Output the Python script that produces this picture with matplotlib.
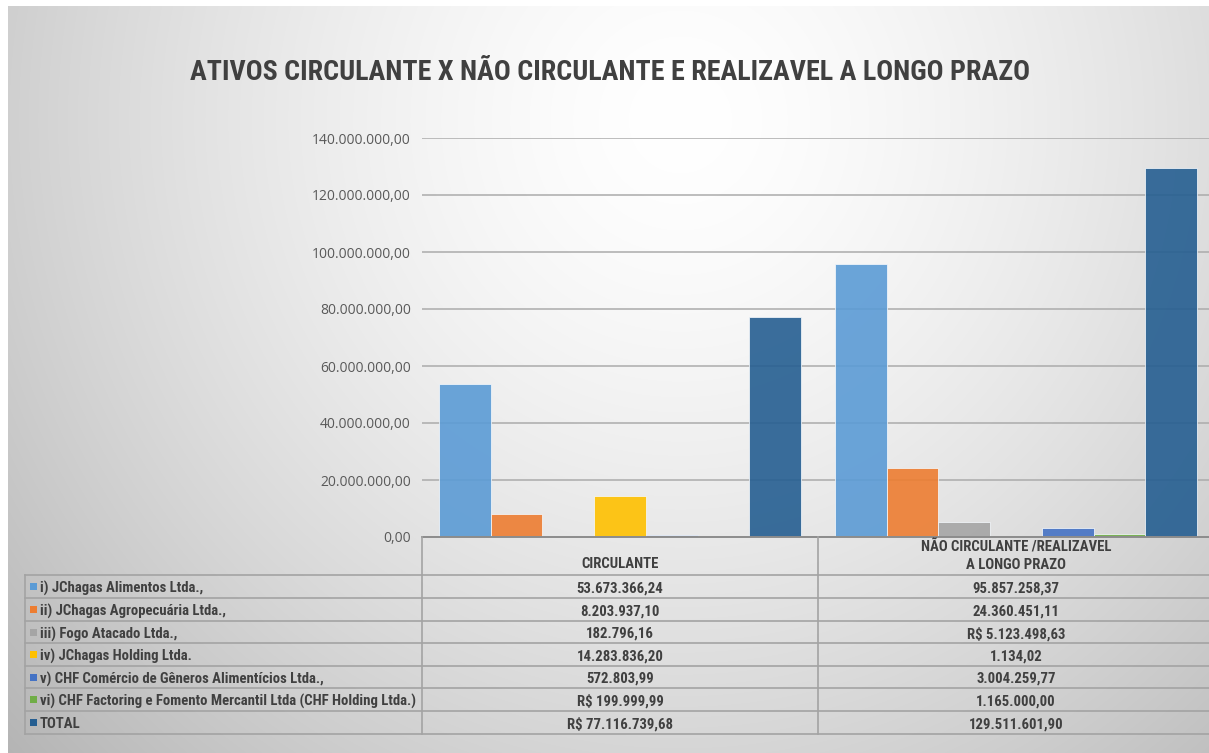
import numpy as np
import matplotlib
matplotlib.use('Agg')
import matplotlib.pyplot as plt
from matplotlib import font_manager as fm
from matplotlib.ticker import FuncFormatter

# data
categories = ['CIRCULANTE', 'NÃO CIRCULANTE /REALIZAVEL\nA LONGO PRAZO']
series = ['i) JChagas Alimentos Ltda.,',
          'ii) JChagas Agropecuária Ltda.,',
          'iii) Fogo Atacado Ltda.,',
          'iv) JChagas Holding Ltda.',
          'v) CHF Comércio de Gêneros Alimentícios Ltda.,',
          'vi) CHF Factoring e Fomento Mercantil Ltda (CHF Holding Ltda.)',
          'TOTAL']
circulante = [53673366.24, 8203937.10, 182796.16, 14283836.20, 572803.99, 199999.99, 77116739.68]
nao_circulante = [95857258.37, 24360451.11, 5123498.63, 1134.02, 3004259.77, 1165000.00, 129511601.90]
circulante_txt = ['53.673.366,24', '8.203.937,10', '182.796,16', '14.283.836,20',
                  '572.803,99', 'R$ 199.999,99', 'R$ 77.116.739,68']
nao_circulante_txt = ['95.857.258,37', '24.360.451,11', 'R$ 5.123.498,63', '1.134,02',
                      '3.004.259,77', '1.165.000,00', '129.511.601,90']
yticks = [0, 20e6, 40e6, 60e6, 80e6, 100e6, 120e6, 140e6]

colors = ['#5B9BD5', '#ED7D31', '#A5A5A5', '#FFC000', '#4472C4', '#70AD47', '#255E91']


def pick(cands):
    for c in cands:
        try:
            fm.findfont(fm.FontProperties(family=c), fallback_to_default=False)
            return c
        except Exception:
            pass
    return 'DejaVu Sans'


narrow = pick(['Liberation Sans Narrow', 'Roboto Condensed', 'Open Sans Condensed', 'Open Sans'])
regular = pick(['Open Sans', 'Lato', 'DejaVu Sans'])

W, H = 1209, 753
fig = plt.figure(figsize=(W / 100, H / 100), dpi=100)
fig.patch.set_facecolor('white')

# radial background
bg = fig.add_axes([8 / W, 0, 1 - 8 / W, 1 - 6 / H], zorder=-5)
yy, xx = np.mgrid[6:H, 8:W]
r = np.sqrt(((xx - 680) / 800.0) ** 2 + ((yy - 120) / 820.0) ** 2)
g = 1 - 0.24 * np.clip(r, 0, 1.2) ** 1.5
bg.imshow(np.dstack([g, g, g]), aspect='auto', extent=(8, W, H, 6), interpolation='bilinear')
bg.axis('off')


def px(x0, y0, x1, y1):
    return [x0 / W, 1 - y1 / H, (x1 - x0) / W, (y1 - y0) / H]


ax = fig.add_axes(px(422, 138, 1214, 537))
ax.patch.set_alpha(0)
n = len(series)
bw = 0.1306
x = np.arange(len(categories))
for k in range(n):
    vals = [circulante[k], nao_circulante[k]]
    ax.bar(x + (k - (n - 1) / 2) * bw, vals, bw, color=colors[k], alpha=0.9,
           edgecolor='#f4f8fc', linewidth=0.6, zorder=3)
ax.set_xlim(-0.5, 1.5)
ax.set_ylim(0, 140e6)
ax.set_yticks(yticks)
ax.yaxis.set_major_formatter(FuncFormatter(
    lambda v, p: '{:,.2f}'.format(v).replace(',', 'X').replace('.', ',').replace('X', '.')))
ax.grid(axis='y', color='#ababab', linewidth=1.1, zorder=0)
for s in ['top', 'right', 'left', 'bottom']:
    ax.spines[s].set_visible(False)
ax.tick_params(axis='y', length=0, pad=8, labelcolor='#595959', labelsize=10)
ax.tick_params(axis='x', length=0, labelbottom=False)
for lab in ax.get_yticklabels():
    lab.set_family(regular)

# table overlay in pixel coordinates
tb = fig.add_axes([0, 0, 1, 1], zorder=5)
tb.set_xlim(0, W)
tb.set_ylim(H, 0)
tb.axis('off')
tb.patch.set_alpha(0)

line_c = '#a3a3a3'
row_y = [575, 598, 621, 643, 666, 688, 711, 734]
tb.plot([422, W], [537, 537], color='#8c8c8c', lw=1.4)
for yv in row_y:
    tb.plot([25, W], [yv, yv], color=line_c, lw=1.2)
tb.plot([25, 25], [575, 734], color=line_c, lw=1.2)
tb.plot([422, 422], [537, 734], color=line_c, lw=1.2)
tb.plot([818, 818], [537, 734], color=line_c, lw=1.2)

txt_kw = dict(color='#404040', family=narrow, fontweight='bold', fontsize=10)
col_x = [620, 1016]
tb.text(col_x[0], 562, categories[0], ha='center', va='center_baseline', **txt_kw)
tb.text(col_x[1], 556, categories[1], ha='center', va='center', linespacing=1.3, **txt_kw)
texts = []
for i in range(n):
    yc = (row_y[i] + row_y[i + 1]) / 2 + 0.5
    tb.add_patch(plt.Rectangle((30, yc - 4), 6.5, 7, color=colors[i], lw=0))
    texts.append(tb.text(40, yc, series[i], ha='left', va='center_baseline', **txt_kw))
    tb.text(col_x[0], yc, circulante_txt[i], ha='center', va='center_baseline', **txt_kw)
    tb.text(col_x[1], yc, nao_circulante_txt[i], ha='center', va='center_baseline', **txt_kw)

title = fig.text(610 / W, 1 - 69 / H,
                 'ATIVOS CIRCULANTE X NÃO CIRCULANTE E REALIZAVEL A LONGO PRAZO',
                 ha='center', va='center_baseline', color='#404040', family=narrow,
                 fontweight='bold', fontsize=22)

# fit text sizes to the reference widths
fig.canvas.draw()
rend = fig.canvas.get_renderer()
tw = title.get_window_extent(rend).width
title.set_fontsize(22 * 840 / tw)
lw_ = texts[5].get_window_extent(rend).width
scale = 377 / lw_
for t in tb.texts:
    t.set_fontsize(10 * scale)

fig.savefig('out.png', dpi=100)
